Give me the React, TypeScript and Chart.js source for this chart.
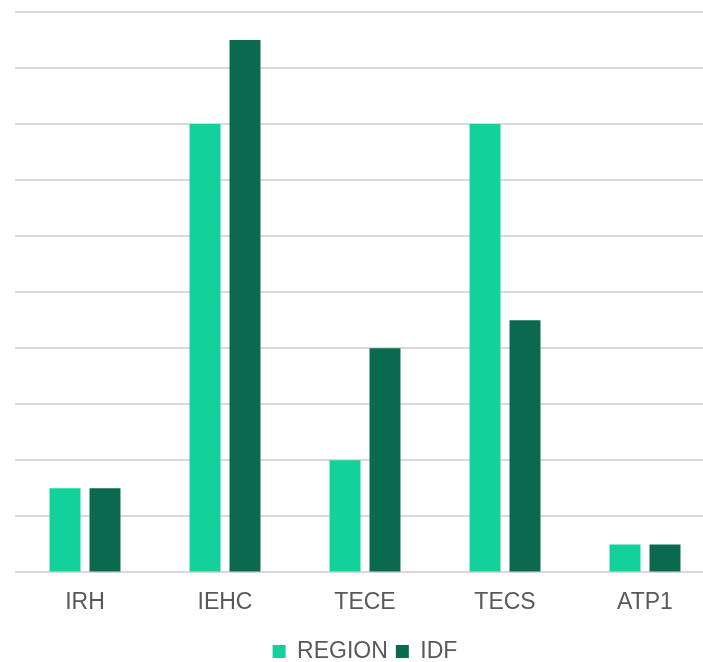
import React, { useEffect, useRef } from "react";
import { Chart, registerables } from "chart.js";

Chart.register(...registerables);

const categories = ["IRH", "IEHC", "TECE", "TECS", "ATP1"];
const regionValues = [1.5, 8, 2, 8, 0.5];
const idfValues = [1.5, 9.5, 4, 4.5, 0.5];
const seriesNames = ["REGION", "IDF"];

export default function App() {
  const ref = useRef<HTMLCanvasElement>(null);
  useEffect(() => {
    const chart = new Chart(ref.current!, {
      type: "bar",
      data: {
        labels: categories,
        datasets: [
          { label: seriesNames[0], data: regionValues, backgroundColor: "#12d19b", categoryPercentage: 0.571, barPercentage: 0.775 },
          { label: seriesNames[1], data: idfValues, backgroundColor: "#0b6a4e", categoryPercentage: 0.571, barPercentage: 0.775 },
        ],
      },
      options: {
        responsive: false,
        animation: false,
        layout: { padding: { left: 15, top: 12, right: 0, bottom: 0 } },
        plugins: {
          tooltip: { enabled: false },
          legend: {
            position: "bottom",
            labels: {
              font: { family: "Liberation Sans, Arial, sans-serif", size: 23 },
              color: "#595959",
              boxWidth: 13,
              boxHeight: 13,
              padding: 8,
            },
          },
        },
        scales: {
          x: {
            grid: { display: false, drawTicks: false },
            border: { display: false },
            ticks: { font: { family: "Liberation Sans, Arial, sans-serif", size: 23 }, color: "#595959", padding: 16 },
          },
          y: {
            min: 0,
            max: 10,
            ticks: { display: false, stepSize: 1 },
            grid: { color: "#d9d9d9", lineWidth: 2, drawTicks: false },
            border: { display: false },
          },
        },
      },
    });
    return () => chart.destroy();
  }, []);
  return (
    <div style={{ position: "fixed", left: 0, top: 0, width: 703, height: 662, overflow: "hidden", background: "#fff" }}>
      <canvas ref={ref} width={715} height={673} style={{ display: "block" }} />
    </div>
  );
}
